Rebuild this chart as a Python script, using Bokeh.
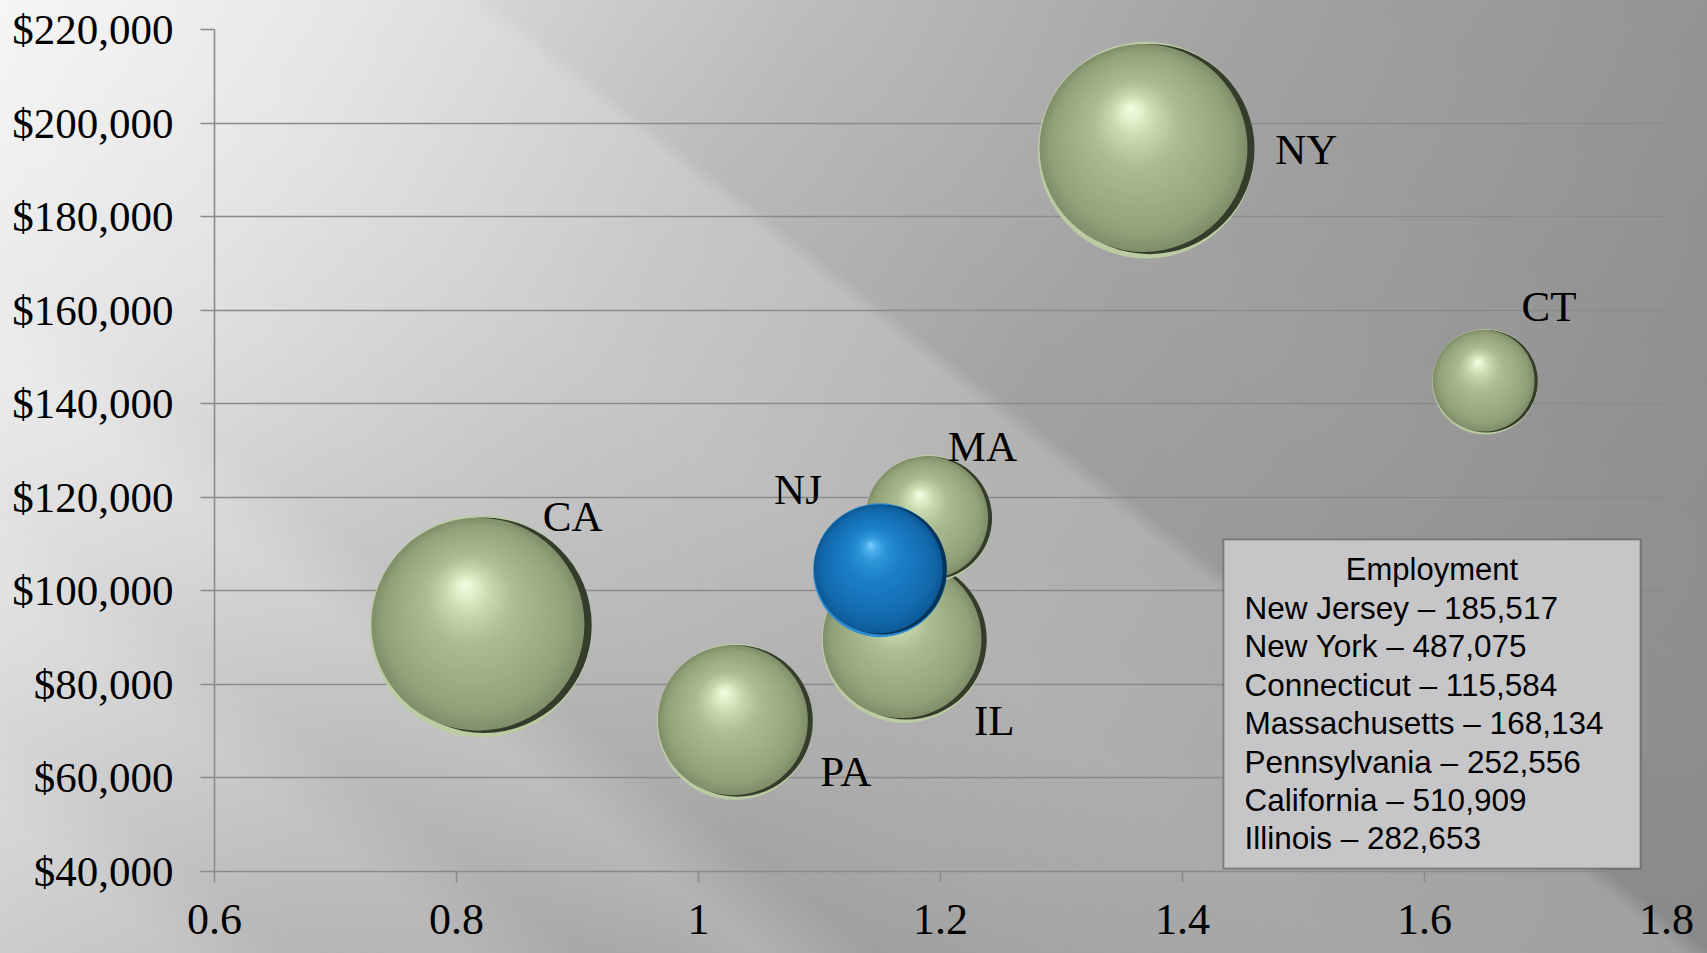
import numpy as np
from bokeh.plotting import figure
from bokeh.models import (FixedTicker, NumeralTickFormatter, Label,
                          BoxAnnotation, ColumnDataSource)
from bokeh.embed import file_html
from bokeh.resources import INLINE
from bokeh.core.properties import value

# ---------------- data ----------------
states = ["NJ", "NY", "CT", "MA", "PA", "CA", "IL"]
state_names = ["New Jersey", "New York", "Connecticut", "Massachusetts",
               "Pennsylvania", "California", "Illinois"]
employment = [185517, 487075, 115584, 168134, 252556, 510909, 282653]
x_vals = [1.15, 1.37, 1.65, 1.19, 1.03, 0.82, 1.17]
salary = [104400, 194200, 144700, 115400, 72000, 92400, 89400]
highlight_state = "NJ"

x_ticks = [0.6, 0.8, 1.0, 1.2, 1.4, 1.6, 1.8]
y_ticks = [40000, 60000, 80000, 100000, 120000, 140000, 160000, 180000,
           200000, 220000]
legend_title = "Employment"

# ---------------- layout / style ----------------
LEFT, RIGHT, TOP, BOTTOM = 214, 41, 29, 82
FRAME_W, FRAME_H = 1452, 842
X0, X1 = x_ticks[0], x_ticks[-1]
Y0, Y1 = y_ticks[0], y_ticks[-1]
PX_PER_X = FRAME_W / (X1 - X0)
DATA_PER_PX_Y = (Y1 - Y0) / FRAME_H
R_MAX = 111.0  # px radius of the largest bubble


def px2x(px):
    return X0 + (px - LEFT) / PX_PER_X


def px2y(py):
    return Y1 - (py - TOP) * DATA_PER_PX_Y


# label offsets (px, screen) relative to bubble centre
label_offsets = {"NJ": (-82, -81), "NY": (160, -1), "CT": (64, -75),
                 "MA": (54, -72), "PA": (111, 50), "CA": (92, -110),
                 "IL": (90, 80)}

GREEN = dict(rim="#bccca2", dark="#343d2b",
             stops=[(0.0, "#818f6a"), (0.12, "#91a178"), (0.35, "#9fae85"),
                    (0.6, "#acbd91"), (0.8, "#c8d9ae"), (0.92, "#e2f2cc"),
                    (1.0, "#f3ffe8")])
BLUE = dict(rim="#2c8fd6", dark="#053459",
            stops=[(0.0, "#0d5a96"), (0.12, "#1268aa"), (0.35, "#1674bb"),
                   (0.6, "#1c80c7"), (0.8, "#2b93d6"), (0.92, "#4aaeea"),
                   (1.0, "#80d0ff")])


def hex2rgb(h):
    h = h.lstrip("#")
    return np.array([int(h[i:i + 2], 16) for i in (0, 2, 4)], dtype=float)


def interp_color(stops, t):
    for (t0, c0), (t1, c1) in zip(stops[:-1], stops[1:]):
        if t <= t1:
            f = 0 if t1 == t0 else (t - t0) / (t1 - t0)
            c = hex2rgb(c0) * (1 - f) + hex2rgb(c1) * f
            return "#%02x%02x%02x" % tuple(int(round(v)) for v in c)
    return stops[-1][1]


p = figure(frame_width=FRAME_W, frame_height=FRAME_H,
           x_range=(X0, X1), y_range=(Y0, Y1),
           output_backend="svg", toolbar_location=None,
           min_border_left=LEFT, min_border_right=RIGHT,
           min_border_top=TOP, min_border_bottom=BOTTOM)

p.background_fill_alpha = 0
p.border_fill_alpha = 0
p.outline_line_color = None
p.styles = {
    "background":
        "linear-gradient(38deg, rgba(255,255,255,0) 0%, rgba(255,255,255,0.10) 6%, "
        "rgba(255,255,255,0) 10%, rgba(255,255,255,0.12) 16%, rgba(255,255,255,0.03) 20%, "
        "rgba(255,255,255,0.20) 26%, rgba(255,255,255,0.05) 30%, rgba(255,255,255,0.14) 36%, "
        "rgba(255,255,255,0.22) 46%, rgba(255,255,255,0.20) 57.5%, rgba(255,255,255,0.02) 58.5%, "
        "rgba(255,255,255,0.04) 70%, rgba(255,255,255,0) 100%), "
        "linear-gradient(122deg, #f4f4f4 0%, #e0e0e0 15%, #c6c6c6 29%, #b9b9b9 36%, "
        "#acacac 46%, #a0a0a0 55%, #979797 70%, #8e8e8e 83%, #878787 100%)"
}

# axes & grid
p.xgrid.grid_line_color = None
p.ygrid.grid_line_color = "#8a8a8a"
p.ygrid.grid_line_width = 1.6
p.ygrid.ticker = FixedTicker(ticks=y_ticks)
p.xaxis.ticker = FixedTicker(ticks=x_ticks)
p.yaxis.ticker = FixedTicker(ticks=y_ticks)
p.yaxis.formatter = NumeralTickFormatter(format="$0,0")
p.xaxis.formatter = NumeralTickFormatter(format="0.[0]")
for ax in (p.xaxis, p.yaxis):
    ax.axis_line_color = "#8a8a8a"
    ax.axis_line_width = 1.6
    ax.major_tick_line_color = "#8a8a8a"
    ax.major_tick_line_width = 1.6
    ax.major_tick_in = 0
    ax.minor_tick_line_color = None
    ax.major_label_text_font = "Liberation Serif"
    ax.major_label_text_color = "black"
p.yaxis.major_tick_out = 14
p.yaxis.major_label_standoff = 27
p.yaxis.major_label_text_font_size = "43px"
p.xaxis.major_tick_out = 11
p.xaxis.major_label_standoff = 22
p.xaxis.major_label_text_font_size = "44px"

# bubbles (largest first, highlighted state on top)
radii = [R_MAX * np.sqrt(e / max(employment)) for e in employment]
order = sorted(range(len(states)), key=lambda i: -employment[i])
order = [i for i in order if states[i] != highlight_state] + \
        [i for i in order if states[i] == highlight_state]

N = 44
for i in order:
    pal = BLUE if states[i] == highlight_state else GREEN
    r = radii[i]
    xs, ys, sz, cols = [], [], [], []

    def add(off, rad, col):
        xs.append(x_vals[i] + off[0] / PX_PER_X)
        ys.append(salary[i] - off[1] * DATA_PER_PX_Y)
        sz.append(2 * rad)
        cols.append(col)

    add((0.0, 0.0), r, pal["rim"])                       # light rim
    add((0.03 * r, -0.01 * r), 0.97 * r, pal["dark"])    # dark right edge
    start = np.array([-0.025 * r, -0.02 * r])
    hl = np.array([-0.14 * r, -0.38 * r])
    for k in range(N):
        t = k / (N - 1)
        rr = r * 0.955 * (1 - t) ** 0.95 + 0.5
        off = start * (1 - t) + hl * t
        add(off, rr, interp_color(pal["stops"], t))
    src = ColumnDataSource(dict(x=xs, y=ys, size=sz, color=cols))
    p.scatter("x", "y", size="size", fill_color="color", line_color=None,
              source=src, marker="circle")

# data labels
lab_src = ColumnDataSource(dict(
    x=x_vals, y=salary, text=states,
    xo=[label_offsets[s][0] for s in states],
    yo=[label_offsets[s][1] for s in states]))
p.text("x", "y", text="text", x_offset="xo", y_offset="yo", source=lab_src,
       text_font=value("Liberation Serif"), text_font_size="43px",
       text_color="black", text_align="center", text_baseline="middle")

# employment text box
BOX_L, BOX_R, BOX_T, BOX_B = 1223, 1640, 539, 868
p.add_layout(BoxAnnotation(left=px2x(BOX_L), right=px2x(BOX_R),
                           top=px2y(BOX_T), bottom=px2y(BOX_B),
                           fill_color="#c6c6c9", fill_alpha=1,
                           line_color="black", line_width=2, level="overlay"))
p.add_layout(Label(x=px2x((BOX_L + BOX_R) / 2), y=px2y(569), text=legend_title,
                   text_font="Liberation Sans", text_font_size="31px",
                   text_align="center", text_baseline="alphabetic",
                   text_color="black", level="overlay"))
for j, (nm, e) in enumerate(zip(state_names, employment)):
    p.add_layout(Label(x=px2x(1244), y=px2y(607.5 + j * 38.4),
                       text=f"{nm} \u2013 {e:,}",
                       text_font="Liberation Sans", text_font_size="31.5px",
                       text_align="left", text_baseline="alphabetic",
                       text_color="black", level="overlay"))

open("out.html", "w").write(file_html(p, INLINE))
